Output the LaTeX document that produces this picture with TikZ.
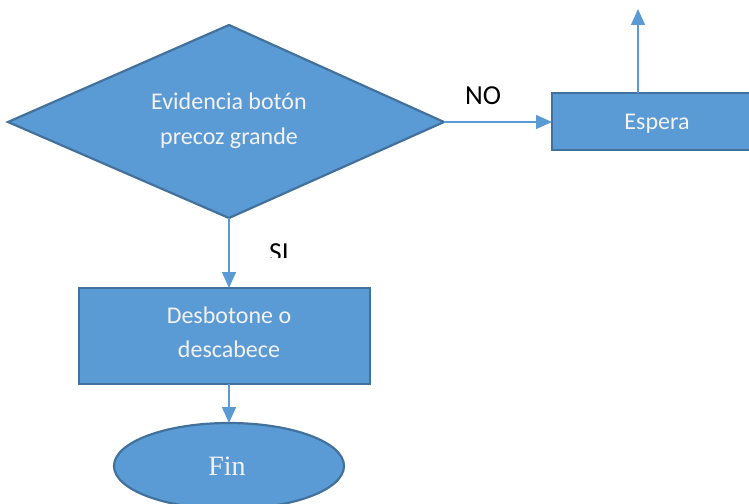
\documentclass[tikz,border=0pt]{standalone}
\usepackage{fontspec}
\setmainfont{Carlito}
\newfontfamily\finfont{Liberation Serif}
\usetikzlibrary{arrows.meta,shapes.geometric}
\definecolor{boxfill}{HTML}{5B9BD5}
\definecolor{boxedge}{HTML}{41719C}
\definecolor{boxtext}{HTML}{F2F2F2}
\tikzset{
  shapebox/.style={fill=boxfill, draw=boxedge, line width=2.2pt},
  flow/.style={draw=boxfill, line width=1.5pt, -{Triangle[length=16pt,width=14pt]}},
  inner/.style={text=boxtext, font=\fontsize{24}{34}\selectfont, align=center},
  answer/.style={text=black, font=\fontsize{27.5}{30}\selectfont}
}
\begin{document}
\begin{tikzpicture}[x=1pt,y=-1pt]
\useasboundingbox (0,0) rectangle (749,503);
\clip (0,0) rectangle (749,503);

% decision diamond
\draw[shapebox] (8,122) coordinate (dl) -- (229,25) -- (444,122) coordinate (dr)
  -- (229,218) coordinate (db) -- cycle;
\node[inner, font=\fontsize{24}{35}\selectfont] (q) at (229,121) {Evidencia botón\\precoz grande};

% waiting step, running past the right edge
\draw[shapebox] (552,93) rectangle (762,150);
\coordinate (wl) at (552,122);
\coordinate (wt) at (638,93);
\coordinate (wup) at (638,9);
\node[inner] (w) at (657,124) {Espera};

% action step
\draw[shapebox] (79,288) rectangle (370,384);
\coordinate (at) at (229,288);
\coordinate (ab) at (229,384);
\node[inner] (a) at (229,332) {Desbotone o\\descabece};

% terminator
\draw[shapebox] (229,466) ellipse [x radius=115, y radius=43];
\coordinate (et) at (229,423);
\node[text=boxtext, font=\finfont\fontsize{28}{32}\selectfont] (fin) at (227,466) {Fin};

% connectors
\draw[flow] (dr) -- (wl);
\draw[flow] (wt) -- (wup);
\draw[flow] (db) -- (at);
\draw[flow] (ab) -- (et);

% branch labels
\node[answer] (no) at (483,96) {NO};
\begin{scope}
  \clip (250,230) rectangle (310,257);
  \node[answer] (si) at (279,253) {SI};
\end{scope}
\end{tikzpicture}
\end{document}
